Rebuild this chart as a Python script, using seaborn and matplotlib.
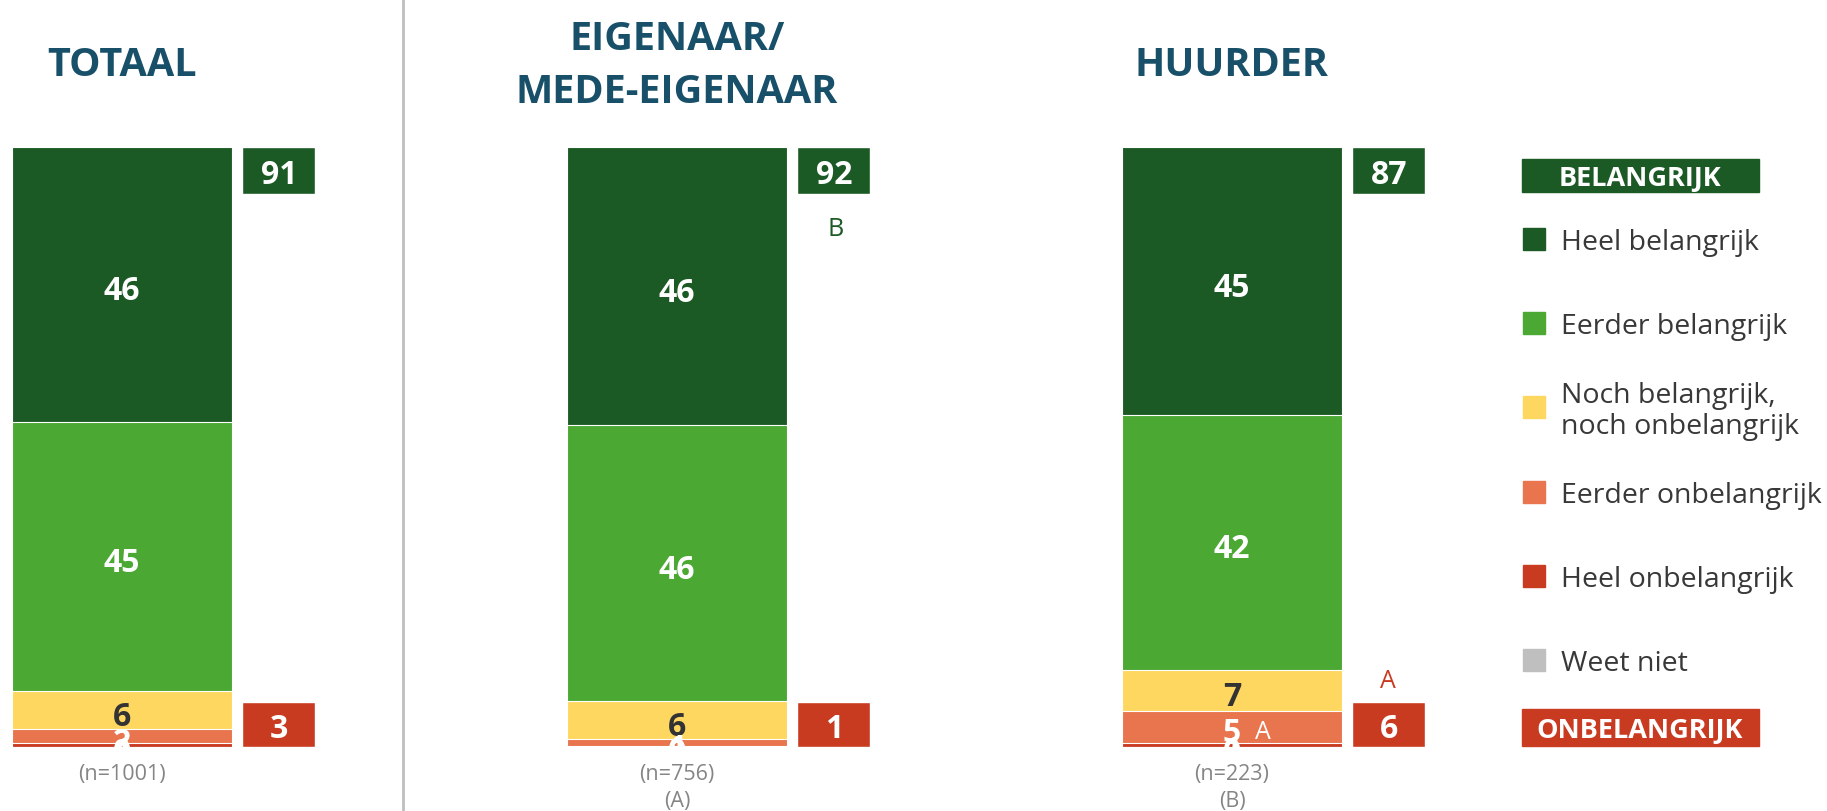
import numpy as np
import pandas as pd
import matplotlib
matplotlib.use("Agg")
import matplotlib.pyplot as plt
from matplotlib.patches import Rectangle
import seaborn as sns

# data
groepen = ["TOTAAL", "EIGENAAR/\nMEDE-EIGENAAR", "HUURDER"]
n_labels = ["(n=1001)", "(n=756)", "(n=223)"]
groep_letters = ["", "(A)", "(B)"]
categorieen = ["Heel belangrijk", "Eerder belangrijk", "Noch belangrijk,\nnoch onbelangrijk",
               "Eerder onbelangrijk", "Heel onbelangrijk", "Weet niet"]
kleuren = ["#1C5A25", "#4BA833", "#FED760", "#E8754E", "#C83B21", "#BFBFBF"]
label_kleur = ["white", "white", "#333333", "white", "white", "white"]

totaal = [45.9, 44.8, 6.3, 2.4, 0.6, 0.0]
eigenaar = [46.4, 46.0, 6.3, 1.2, 0.1, 0.0]
huurder = [44.7, 42.4, 6.9, 5.3, 0.7, 0.0]

belangrijk = [91, 92, 87]
onbelangrijk = [3, 1, 6]
sig_belangrijk = ["", "B", ""]
sig_onbelangrijk = ["", "", "A"]
sig_eerder_onbel = ["", "", "A"]

W, H = 1827, 812
TITEL = "#18506A"
DY = 1.0  # text sits a little high with va=center, nudge down (in %)

sns.set_theme(style="white")
plt.rcParams["font.family"] = ["Open Sans", "DejaVu Sans"]

waarden = np.array([totaal, eigenaar, huurder])  # groups x categories
df = pd.DataFrame(waarden, columns=categorieen)
df["groep"] = [str(i) for i in range(len(groepen))]

fig = plt.figure(figsize=(W / 100, H / 100), dpi=100)
ax = fig.add_axes([0, 0, 1, 1])

# stacked bars: bottom category is last, draw cumulative from the top down
cum = df[categorieen[::-1]].cumsum(axis=1)
bar_w = 0.398
for cat, kl in zip(categorieen, kleuren):
    layer = pd.DataFrame({"groep": df["groep"], "cum": cum[cat]})
    sns.barplot(data=layer, x="groep", y="cum", color=kl, width=bar_w,
                errorbar=None, saturation=1, edgecolor="white", linewidth=0.8, ax=ax)

# scale: 555 px per group, 6 px per percent
ax.set_xlim(-122 / 555, (W - 122) / 555)
ax.set_ylim(-64 / 6, (H - 64) / 6)
ax.axis("off")

# segment labels
for g in range(len(groepen)):
    top = 100.0
    for c, cat in enumerate(categorieen):
        v = waarden[g, c]
        mid = top - v / 2
        ax.text(g, mid - DY, f"{v:.0f}", ha="center", va="center", color=label_kleur[c],
                fontsize=23, fontweight="bold")
        if cat == "Eerder onbelangrijk" and sig_eerder_onbel[g]:
            ax.text(g + 31 / 555, mid - DY * 0.7, sig_eerder_onbel[g], ha="center", va="center",
                    color="white", fontsize=18)
        top -= v

# net totals boxes
box_x = 157 / 555
box_w = 73 / 555
ax.bar([g + box_x for g in range(3)], [7.8] * 3, bottom=100 - 7.8, width=box_w, color=kleuren[0])
ax.bar([g + box_x for g in range(3)], [7.5] * 3, bottom=0, width=box_w, color=kleuren[4])
for g in range(3):
    ax.text(g + box_x, 100 - 3.9 - 0.6, str(belangrijk[g]), ha="center", va="center",
            color="white", fontsize=23, fontweight="bold")
    ax.text(g + box_x, 3.75 - 0.6, str(onbelangrijk[g]), ha="center", va="center",
            color="white", fontsize=23, fontweight="bold")
    if sig_belangrijk[g]:
        ax.text(g + 159 / 555, 87.2 - 0.7, sig_belangrijk[g], ha="center", va="center",
                color=kleuren[0], fontsize=18)
    if sig_onbelangrijk[g]:
        ax.text(g + 156 / 555, 11.7 - 0.7, sig_onbelangrijk[g], ha="center", va="center",
                color=kleuren[4], fontsize=18)
    ax.text(g, -4.5, n_labels[g], ha="center", va="center", color="#858585", fontsize=15.5)
    if groep_letters[g]:
        ax.text(g, -8.9, groep_letters[g], ha="center", va="center", color="#858585", fontsize=15.5)

    # titles
    lines = groepen[g].split("\n")
    for k, line in enumerate(lines):
        ypx = 66 + (k - (len(lines) - 1) / 2) * 53
        ax.text(g, (H - 64 - ypx) / 6, line, ha="center", va="center", color=TITEL,
                fontsize=28.5, fontweight="bold")

# separator
ax.axvline((403 - 122) / 555, color="#BFBFBF", linewidth=2)

# legend
def fx(px):
    return px / W


def fy(py):
    return 1 - py / H


fig.patches.append(Rectangle((fx(1522), fy(193)), fx(1759) - fx(1522), fy(160) - fy(193),
                             transform=fig.transFigure, color=kleuren[0]))
fig.text(fx(1640), fy(179), "BELANGRIJK", ha="center", va="center", color="white",
         fontsize=19.5, fontweight="bold")
fig.patches.append(Rectangle((fx(1522), fy(747)), fx(1759) - fx(1522), fy(710) - fy(747),
                             transform=fig.transFigure, color=kleuren[4]))
fig.text(fx(1640), fy(731), "ONBELANGRIJK", ha="center", va="center", color="white",
         fontsize=19.5, fontweight="bold")
for c, (cat, kl) in enumerate(zip(categorieen, kleuren)):
    ypx = 240 + c * 84.2
    fig.patches.append(Rectangle((fx(1523), fy(ypx + 11)), fx(22), 22 / H,
                                 transform=fig.transFigure, color=kl))
    fig.text(fx(1561), fy(ypx + 3), cat, ha="left", va="center", color="#383838",
             fontsize=20.5, linespacing=1.12)

fig.savefig("out.png", dpi=100)
